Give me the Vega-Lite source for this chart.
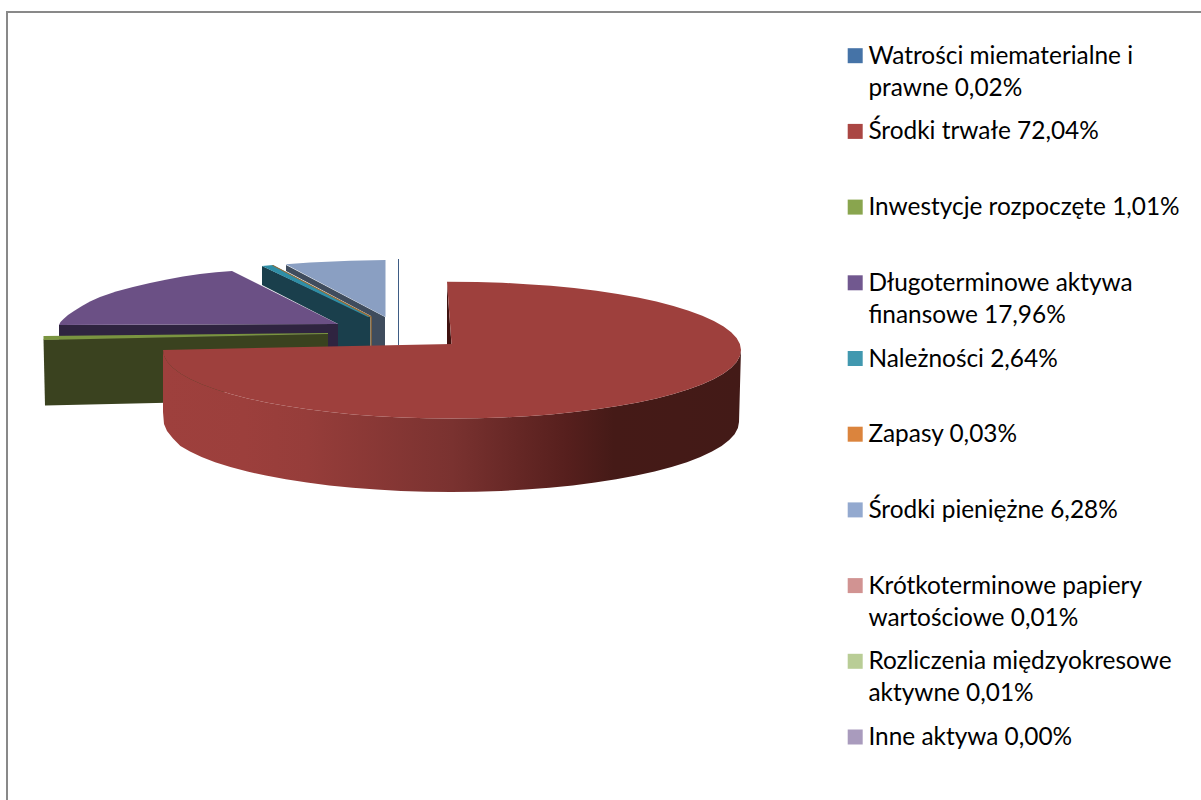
{"$schema":"https://vega.github.io/schema/vega-lite/v6.json","width":1201,"height":800,"padding":0,"autosize":{"type":"none"},"background":"white","config":{"view":{"stroke":null},"font":"Lato"},
"datasets":{
"udzialy":[{"pozycja":"Watrości miematerialne i|prawne 0,02%","udzial":0.02},{"pozycja":"Środki trwałe 72,04%","udzial":72.04},{"pozycja":"Inwestycje rozpoczęte 1,01%","udzial":1.01},{"pozycja":"Długoterminowe aktywa|finansowe 17,96%","udzial":17.96},{"pozycja":"Należności 2,64%","udzial":2.64},{"pozycja":"Zapasy 0,03%","udzial":0.03},{"pozycja":"Środki pieniężne 6,28%","udzial":6.28},{"pozycja":"Krótkoterminowe papiery|wartościowe 0,01%","udzial":0.01},{"pozycja":"Rozliczenia międzyokresowe|aktywne 0,01%","udzial":0.01},{"pozycja":"Inne aktywa 0,00%","udzial":0.0}],
"ramka":[{"x":7,"y":12,"x2":7,"y2":800},{"x":6,"y":12,"x2":1201,"y2":12}],
"kontury":[
{"element":"sp_bok","n":1,"x":286,"y":265},{"element":"sp_bok","n":2,"x":385,"y":317},{"element":"sp_bok","n":3,"x":385,"y":346},{"element":"sp_bok","n":4,"x":371,"y":346},{"element":"sp_bok","n":5,"x":371,"y":316},{"element":"sp_bok","n":6,"x":286,"y":271},
{"element":"sp_gora","n":1,"x":285.7,"y":264.3},{"element":"sp_gora","n":2,"x":310,"y":262.5},{"element":"sp_gora","n":3,"x":350,"y":260.7},{"element":"sp_gora","n":4,"x":385.5,"y":260},{"element":"sp_gora","n":5,"x":385.5,"y":317},
{"element":"wn_bok","n":1,"x":398,"y":259},{"element":"wn_bok","n":2,"x":399,"y":259},{"element":"wn_bok","n":3,"x":399,"y":345},{"element":"wn_bok","n":4,"x":398,"y":345},
{"element":"na_bok","n":1,"x":262,"y":266},{"element":"na_bok","n":2,"x":370.5,"y":317},{"element":"na_bok","n":3,"x":370.5,"y":347},{"element":"na_bok","n":4,"x":338,"y":347},{"element":"na_bok","n":5,"x":338,"y":324},{"element":"na_bok","n":6,"x":262,"y":285},
{"element":"na_gora","n":1,"x":262,"y":266},{"element":"na_gora","n":2,"x":273,"y":265},{"element":"na_gora","n":3,"x":370.5,"y":316.5},{"element":"na_gora","n":4,"x":368,"y":317},
{"element":"za_bok","n":1,"x":273,"y":265},{"element":"za_bok","n":2,"x":371.7,"y":316.5},{"element":"za_bok","n":3,"x":371.7,"y":346},{"element":"za_bok","n":4,"x":370.5,"y":346},{"element":"za_bok","n":5,"x":370.5,"y":317.5},{"element":"za_bok","n":6,"x":272,"y":265.5},
{"element":"da_bok","n":1,"x":59,"y":325},{"element":"da_bok","n":2,"x":338,"y":324},{"element":"da_bok","n":3,"x":338,"y":348},{"element":"da_bok","n":4,"x":59,"y":348},
{"element":"da_gora","n":1,"x":59,"y":325},{"element":"da_gora","n":2,"x":60.5,"y":322},{"element":"da_gora","n":3,"x":63.5,"y":319},{"element":"da_gora","n":4,"x":68,"y":315},{"element":"da_gora","n":5,"x":74,"y":311},{"element":"da_gora","n":6,"x":82,"y":306},{"element":"da_gora","n":7,"x":90,"y":301.5},{"element":"da_gora","n":8,"x":100,"y":297},{"element":"da_gora","n":9,"x":116,"y":291.5},{"element":"da_gora","n":10,"x":133,"y":287},{"element":"da_gora","n":11,"x":150,"y":283},{"element":"da_gora","n":12,"x":167,"y":279.5},{"element":"da_gora","n":13,"x":183,"y":276.5},{"element":"da_gora","n":14,"x":200,"y":274},{"element":"da_gora","n":15,"x":216,"y":272.3},{"element":"da_gora","n":16,"x":232,"y":271},{"element":"da_gora","n":17,"x":338,"y":324},
{"element":"ir_bok","n":1,"x":43.5,"y":339.5},{"element":"ir_bok","n":2,"x":328,"y":334},{"element":"ir_bok","n":3,"x":328,"y":350},{"element":"ir_bok","n":4,"x":200,"y":402},{"element":"ir_bok","n":5,"x":45,"y":405.5},
{"element":"ir_gora","n":1,"x":43.5,"y":336},{"element":"ir_gora","n":2,"x":328,"y":333},{"element":"ir_gora","n":3,"x":328,"y":334},{"element":"ir_gora","n":4,"x":43.5,"y":340}
],
"srodki_bok":[
{"n":1,"x":741,"y":350},{"n":2,"x":739.9,"y":356},{"n":3,"x":736.6,"y":361.9},{"n":4,"x":731.2,"y":367.7},{"n":5,"x":723.6,"y":373.4},{"n":6,"x":713.9,"y":378.9},{"n":7,"x":702.3,"y":384.3},{"n":8,"x":688.7,"y":389.3},{"n":9,"x":673.4,"y":394},{"n":10,"x":656.4,"y":398.4},{"n":11,"x":637.8,"y":402.5},{"n":12,"x":617.8,"y":406.1},{"n":13,"x":596.5,"y":409.3},{"n":14,"x":574.1,"y":412.1},{"n":15,"x":550.8,"y":414.4},{"n":16,"x":526.8,"y":416.2},{"n":17,"x":502.3,"y":417.5},{"n":18,"x":477.2,"y":418.2},{"n":19,"x":452,"y":418.5},{"n":20,"x":426.8,"y":418.2},{"n":21,"x":401.7,"y":417.5},{"n":22,"x":377.2,"y":416.2},{"n":23,"x":353.2,"y":414.4},{"n":24,"x":329.9,"y":412.1},{"n":25,"x":307.5,"y":409.3},{"n":26,"x":286.2,"y":406.1},{"n":27,"x":266.2,"y":402.5},{"n":28,"x":247.6,"y":398.4},{"n":29,"x":230.6,"y":394},{"n":30,"x":215.3,"y":389.3},{"n":31,"x":201.7,"y":384.3},{"n":32,"x":190.1,"y":378.9},{"n":33,"x":180.4,"y":373.4},{"n":34,"x":172.8,"y":367.7},{"n":35,"x":167.4,"y":361.9},{"n":36,"x":164.1,"y":356},{"n":37,"x":163,"y":350},
{"n":38,"x":163,"y":412},{"n":39,"x":164,"y":424},{"n":40,"x":167,"y":431},{"n":41,"x":173,"y":438.5},{"n":42,"x":180.4,"y":445.9},{"n":43,"x":190,"y":451.6},{"n":44,"x":201.6,"y":457},{"n":45,"x":215.1,"y":462.2},{"n":46,"x":230.4,"y":467},{"n":47,"x":247.4,"y":471.5},{"n":48,"x":265.8,"y":475.6},{"n":49,"x":285.8,"y":479.3},{"n":50,"x":307,"y":482.6},{"n":51,"x":329.3,"y":485.4},{"n":52,"x":352.5,"y":487.8},{"n":53,"x":376.5,"y":489.6},{"n":54,"x":401,"y":490.9},{"n":55,"x":425.9,"y":491.7},{"n":56,"x":451,"y":492},{"n":57,"x":476.1,"y":491.7},{"n":58,"x":501,"y":490.9},{"n":59,"x":525.5,"y":489.6},{"n":60,"x":549.5,"y":487.8},{"n":61,"x":572.7,"y":485.4},{"n":62,"x":595,"y":482.6},{"n":63,"x":616.2,"y":479.3},{"n":64,"x":636.2,"y":475.6},{"n":65,"x":654.6,"y":471.5},{"n":66,"x":671.6,"y":467},{"n":67,"x":686.9,"y":462.2},{"n":68,"x":700.4,"y":457},{"n":69,"x":712,"y":451.6},{"n":70,"x":721.6,"y":445.9},{"n":71,"x":729.2,"y":440.1},{"n":72,"x":734.6,"y":434.2},{"n":73,"x":737.9,"y":428.1},{"n":74,"x":739,"y":422}],
"srodki_sciana":[{"n":1,"x":447,"y":283},{"n":2,"x":451.5,"y":345},{"n":3,"x":447,"y":345}],
"srodki_gora":[
{"n":1,"x":447,"y":281.7},{"n":2,"x":477.2,"y":282},{"n":3,"x":502.3,"y":282.7},{"n":4,"x":526.8,"y":284.3},{"n":5,"x":550.8,"y":285.8},{"n":6,"x":574.1,"y":287.9},{"n":7,"x":596.5,"y":290.7},{"n":8,"x":617.8,"y":293.9},{"n":9,"x":637.8,"y":297.5},{"n":10,"x":656.4,"y":301.6},{"n":11,"x":673.4,"y":306},{"n":12,"x":688.7,"y":310.7},{"n":13,"x":702.3,"y":315.7},{"n":14,"x":713.9,"y":321.1},{"n":15,"x":723.6,"y":326.6},{"n":16,"x":731.2,"y":332.3},{"n":17,"x":736.6,"y":338.1},{"n":18,"x":739.9,"y":344},{"n":19,"x":741,"y":350},{"n":20,"x":739.9,"y":356},{"n":21,"x":736.6,"y":361.9},{"n":22,"x":731.2,"y":367.7},{"n":23,"x":723.6,"y":373.4},{"n":24,"x":713.9,"y":378.9},{"n":25,"x":702.3,"y":384.3},{"n":26,"x":688.7,"y":389.3},{"n":27,"x":673.4,"y":394},{"n":28,"x":656.4,"y":398.4},{"n":29,"x":637.8,"y":402.5},{"n":30,"x":617.8,"y":406.1},{"n":31,"x":596.5,"y":409.3},{"n":32,"x":574.1,"y":412.1},{"n":33,"x":550.8,"y":414.4},{"n":34,"x":526.8,"y":416.2},{"n":35,"x":502.3,"y":417.5},{"n":36,"x":477.2,"y":418.2},{"n":37,"x":452,"y":418.5},{"n":38,"x":426.8,"y":418.2},{"n":39,"x":401.7,"y":417.5},{"n":40,"x":377.2,"y":416.2},{"n":41,"x":353.2,"y":414.4},{"n":42,"x":329.9,"y":412.1},{"n":43,"x":307.5,"y":409.3},{"n":44,"x":286.2,"y":406.1},{"n":45,"x":266.2,"y":402.5},{"n":46,"x":247.6,"y":398.4},{"n":47,"x":230.6,"y":394},{"n":48,"x":215.3,"y":389.3},{"n":49,"x":201.7,"y":384.3},{"n":50,"x":190.1,"y":378.9},{"n":51,"x":180.4,"y":373.4},{"n":52,"x":172.8,"y":367.7},{"n":53,"x":167.4,"y":361.9},{"n":54,"x":164.1,"y":356},{"n":55,"x":163,"y":350},{"n":56,"x":451.5,"y":344}]
},
"layer":[
{"data":{"name":"ramka"},"mark":{"type":"rule","color":"#898989","strokeWidth":2},"encoding":{"x":{"field":"x","type":"quantitative","axis":null,"scale":{"domain":[0,1201],"nice":false,"zero":false}},"y":{"field":"y","type":"quantitative","axis":null,"scale":{"domain":[800,0],"nice":false,"zero":false}},"x2":{"field":"x2"},"y2":{"field":"y2"}}},
{"data":{"name":"kontury"},"mark":{"type":"line","filled":true,"stroke":null,"strokeWidth":0},"encoding":{"x":{"field":"x","type":"quantitative"},"y":{"field":"y","type":"quantitative"},"order":{"field":"n","type":"quantitative"},"fill":{"field":"element","type":"nominal","legend":null,"scale":{"domain":["sp_bok","sp_gora","wn_bok","na_bok","na_gora","za_bok","da_bok","da_gora","ir_bok","ir_gora"],"range":["#3f4c5d","#8a9fc2","#3e5c85","#1a3f4c","#2f8ea6","#9a6a32","#2f2440","#6b5085","#3a421f","#7a9440"]}}}},
{"data":{"name":"srodki_bok"},"mark":{"type":"line","filled":true,"stroke":null,"strokeWidth":0,"fill":{"gradient":"linear","x1":0,"y1":0,"x2":1,"y2":0,"stops":[{"offset":0,"color":"#9e403d"},{"offset":0.14,"color":"#9c3f3c"},{"offset":0.25,"color":"#963d3a"},{"offset":0.5,"color":"#7a3230"},{"offset":0.7,"color":"#561f1d"},{"offset":0.78,"color":"#451a17"},{"offset":1,"color":"#431a17"}]}},"encoding":{"x":{"field":"x","type":"quantitative"},"y":{"field":"y","type":"quantitative"},"order":{"field":"n","type":"quantitative"}}},
{"data":{"name":"srodki_sciana"},"mark":{"type":"line","filled":true,"stroke":null,"strokeWidth":0,"fill":"#3f1210"},"encoding":{"x":{"field":"x","type":"quantitative"},"y":{"field":"y","type":"quantitative"},"order":{"field":"n","type":"quantitative"}}},
{"data":{"name":"srodki_gora"},"mark":{"type":"line","filled":true,"stroke":null,"strokeWidth":0,"fill":"#9e403d"},"encoding":{"x":{"field":"x","type":"quantitative"},"y":{"field":"y","type":"quantitative"},"order":{"field":"n","type":"quantitative"}}},
{"data":{"name":"udzialy"},"mark":{"type":"point","filled":true,"size":0,"opacity":0},"encoding":{"fill":{"field":"pozycja","type":"nominal","sort":null,"scale":{"domain":["Watrości miematerialne i|prawne 0,02%","Środki trwałe 72,04%","Inwestycje rozpoczęte 1,01%","Długoterminowe aktywa|finansowe 17,96%","Należności 2,64%","Zapasy 0,03%","Środki pieniężne 6,28%","Krótkoterminowe papiery|wartościowe 0,01%","Rozliczenia międzyokresowe|aktywne 0,01%","Inne aktywa 0,00%"],"range":["#4573A7","#AA4643","#89A54E","#71588F","#4198AF","#DB843D","#93A9CF","#D19392","#B9CD96","#A99BBD"]},"legend":{"title":null,"orient":"none","legendX":843,"legendY":43.5,"symbolType":"square","symbolSize":225,"symbolOpacity":1,"symbolStrokeWidth":0,"labelFont":"Lato","labelFontSize":24.4,"labelColor":"#000000","labelLimit":400,"labelOffset":1,"labelBaseline":"alphabetic","labelExpr":"split(datum.label,'|')","gridAlign":"all","rowPadding":18.7,"padding":0,"encode":{"labels":{"update":{"dy":{"value":8},"lineHeight":{"value":32}}}}}}}}
],
"resolve":{"scale":{"fill":"independent"}}
}
